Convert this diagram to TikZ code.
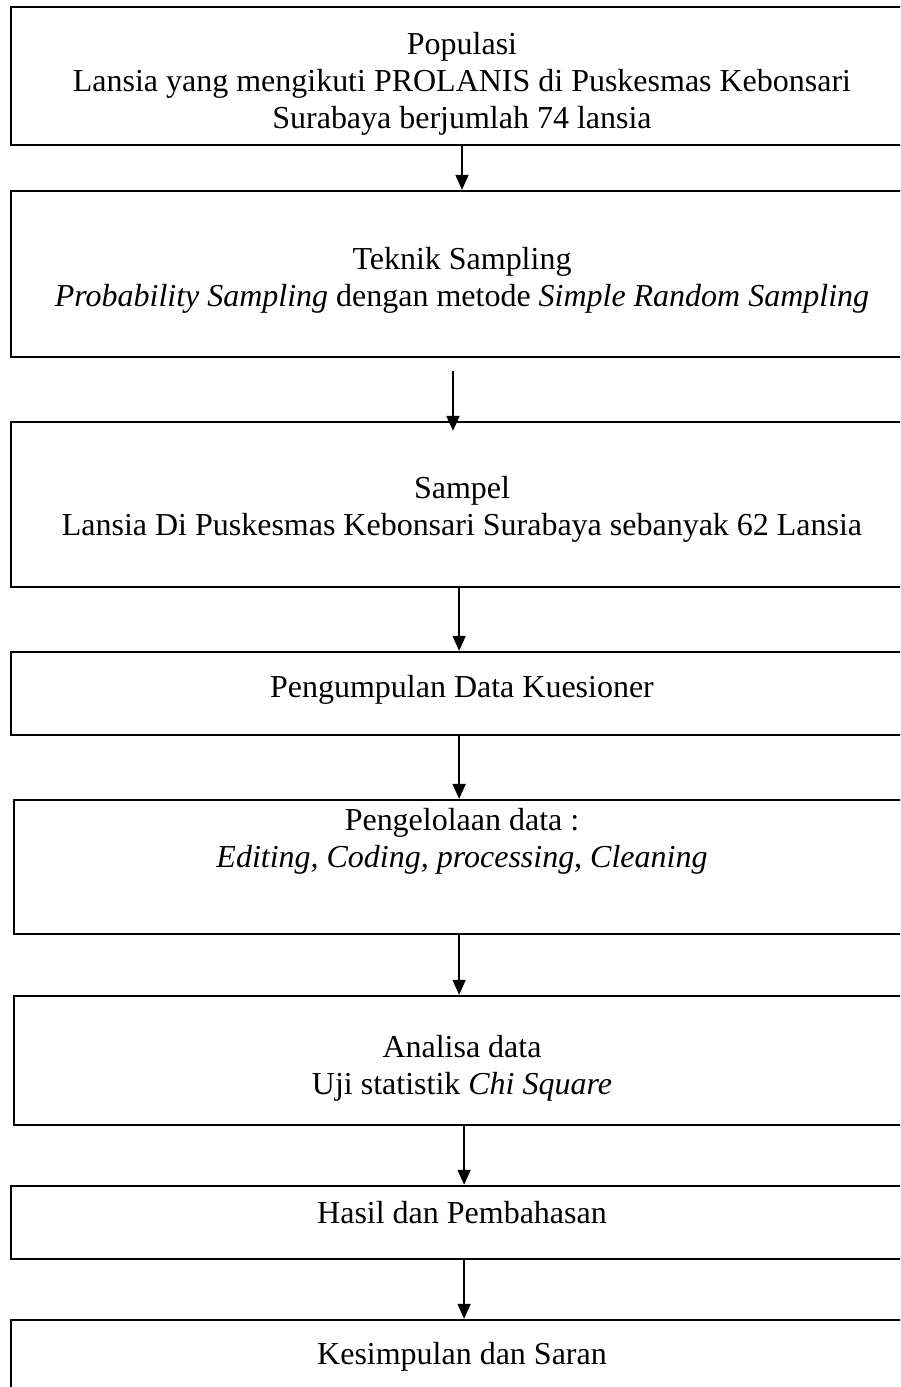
\documentclass[tikz,border=0pt]{standalone}
\usepackage{fontspec}
\setmainfont{Liberation Serif}
\usepackage{tikz}
\usetikzlibrary{arrows.meta, positioning, calc}
\newcommand{\turun}[1]{\rule{0pt}{#1}}

\begin{document}
\begin{tikzpicture}[
  x=0.383pt, y=-0.383pt,
  every node/.style={font=\fontsize{12.25}{14.1}\selectfont},
  box/.style={draw=black, line width=0.9pt, rectangle, align=center, minimum width=345.5pt, inner sep=0pt},
  arrow/.style={-{Triangle[length=5.7pt, width=5pt]}, line width=0.5pt}
]
  \useasboundingbox (0,0) rectangle (900,1387);
  \clip (0,0) rectangle (900,1387);

  % Alur penelitian
  \node[box, minimum height=52.9pt] (pop) at (462, 76) {\turun{14.6pt}Populasi\\Lansia yang mengikuti PROLANIS di Puskesmas Kebonsari\\Surabaya berjumlah 74 lansia};
  \node[box, minimum height=63.6pt] (teknik) at (462, 274) {\turun{13.1pt}Teknik Sampling\\\textit{Probability Sampling} dengan metode \textit{Simple Random Sampling}};
  \node[box, minimum height=63.2pt] (sampel) at (462, 504.5) {\turun{12.3pt}Sampel\\Lansia Di Puskesmas Kebonsari Surabaya sebanyak 62 Lansia};
  \node[box, minimum height=31.8pt, text depth=5.5pt] (kumpul) at (462, 693.5) {Pengumpulan Data Kuesioner};
  \node[box, minimum height=51.3pt, minimum width=343pt, text depth=22pt] (olah) at (462, 867) {Pengelolaan data :\\\textit{Editing, Coding, processing}, \textit{Cleaning}};
  \node[box, minimum height=49.4pt, minimum width=343pt] (analisa) at (462, 1060.5) {\turun{14.6pt}Analisa data\\Uji statistik \textit{Chi Square}};
  \node[box, minimum height=28pt, text depth=8pt] (hasil) at (462, 1222.5) {Hasil dan Pembahasan};
  \node[box, minimum height=28pt] (simpul) at (462, 1356.5) {Kesimpulan dan Saran};

  % Panah
  \draw[arrow] (pop.south) -- (teknik.north);
  \draw[arrow] ([shift={(-9,13)}]teknik.south) -- ([shift={(-9,10)}]sampel.north);
  \draw[arrow] ([xshift=-1.1pt]sampel.south) -- ([xshift=-1.1pt]kumpul.north);
  \draw[arrow] ([xshift=-1.1pt]kumpul.south) -- ([xshift=-1.1pt]olah.north);
  \draw[arrow] ([xshift=-1.1pt]olah.south) -- ([xshift=-1.1pt]analisa.north);
  \draw[arrow] ([xshift=0.8pt]analisa.south) -- ([xshift=0.8pt]hasil.north);
  \draw[arrow] ([xshift=0.8pt]hasil.south) -- ([xshift=0.8pt]simpul.north);

\end{tikzpicture}
\end{document}
